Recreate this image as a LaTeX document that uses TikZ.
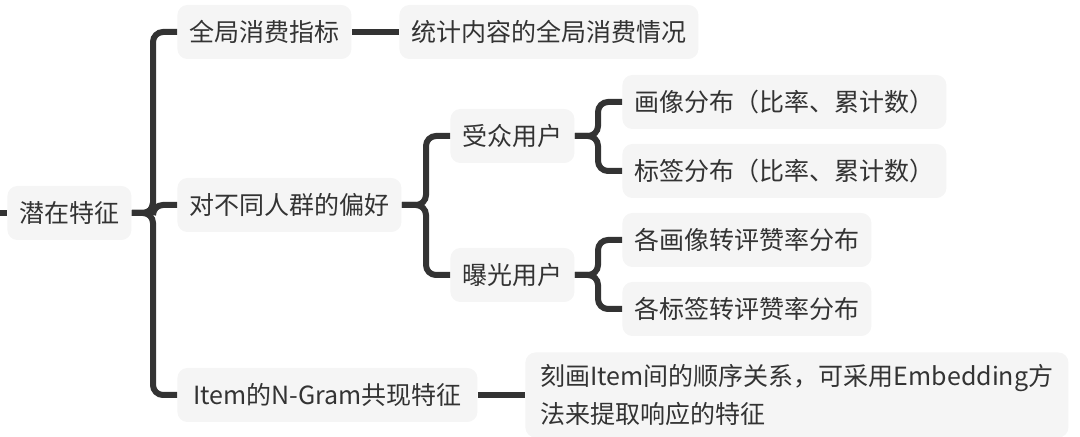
\documentclass[tikz,border=0pt]{standalone}
\usepackage{fontspec}
\setmainfont{Noto Sans CJK SC}
\definecolor{ink}{HTML}{333333}
\definecolor{boxgray}{HTML}{F5F5F5}

\begin{document}
\begin{tikzpicture}[x=0.5pt, y=-0.5pt,
    every node/.style={font=\fontsize{12.5}{19}\selectfont, text=ink},
    topic/.style={fill=boxgray, rounded corners=5pt, anchor=west,
        minimum height=27pt, inner xsep=6pt, align=left},
    link/.style={draw=ink, line width=3pt, rounded corners=5pt}]
    \useasboundingbox (0,0) rectangle (1080,437);
    % root and first level
    \node[topic] (root) at (7,213) {潜在特征};
    \node[topic] (global) at (177,32) {全局消费指标};
    \node[topic] (prefer) at (177,205) {对不同人群的偏好};
    \node[topic, minimum width=150pt] (ngram) at (177,395) {Item的N-Gram共现特征};
    % second level
    \node[topic] (globaldesc) at (399,32) {统计内容的全局消费情况};
    \node[topic] (audience) at (450,136) {受众用户};
    \node[topic] (exposed) at (450,275) {曝光用户};
    \node[topic, minimum height=42.5pt, minimum width=271.5pt] (ngramdesc) at (525,395)
        {刻画Item间的顺序关系，可采用Embedding方\\法来提取响应的特征};
    % third level
    \node[topic] (portrait) at (622,102) {画像分布（比率、累计数）};
    \node[topic] (tag) at (622,171) {标签分布（比率、累计数）};
    \node[topic] (portraitrate) at (622,240) {各画像转评赞率分布};
    \node[topic] (tagrate) at (622,309) {各标签转评赞率分布};
    % connectors
    \coordinate (stub) at (0,213);
    \draw[link] (stub) -- (root.west);
    \foreach \child in {global,prefer,ngram}
        \draw[link] (root.east) -| ([xshift=-12pt]\child.west) -- (\child.west);
    \draw[link] (global) -- (globaldesc);
    \draw[link] (ngram) -- (ngramdesc);
    \foreach \child in {audience,exposed}
        \draw[link] (prefer.east) -| ([xshift=-12pt]\child.west) -- (\child.west);
    \foreach \child in {portrait,tag}
        \draw[link] (audience.east) -| ([xshift=-12pt]\child.west) -- (\child.west);
    \foreach \child in {portraitrate,tagrate}
        \draw[link] (exposed.east) -| ([xshift=-12pt]\child.west) -- (\child.west);
\end{tikzpicture}
\end{document}
